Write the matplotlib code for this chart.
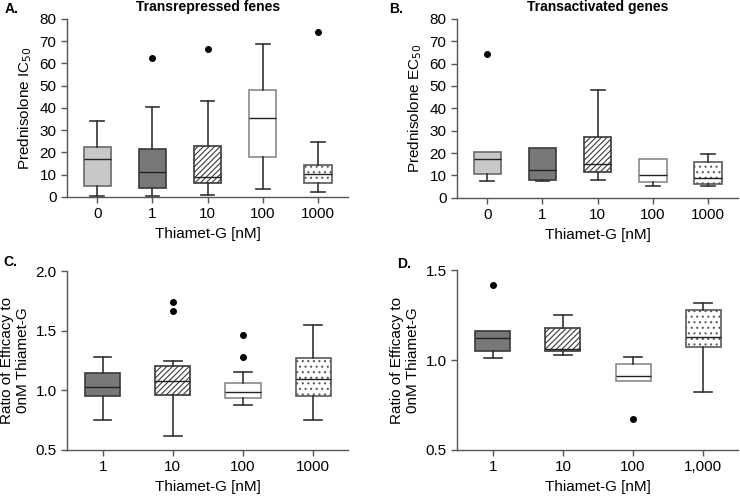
import matplotlib
matplotlib.use("Agg")
import matplotlib.pyplot as plt

plt.rcParams['font.family'] = ['Liberation Sans', 'DejaVu Sans']
plt.rcParams['hatch.linewidth'] = 0.8

# --- data ---
# A: transrepressed genes, IC50
a_labels = ['0', '1', '10', '100', '1000']
a_low = [0.3, 0.2, 1.0, 3.7, 2.0]
a_q1 = [5.0, 4.0, 6.0, 17.8, 6.3]
a_med = [17.0, 11.0, 9.0, 35.4, 10.3]
a_q3 = [22.5, 21.7, 23.0, 48.0, 14.4]
a_high = [34.3, 40.4, 43.0, 68.5, 24.6]
a_out = [[], [62.4], [66.6], [], [74.0]]

# B: transactivated genes, EC50
b_labels = ['0', '1', '10', '100', '1000']
b_low = [7.5, 7.5, 7.8, 5.2, 5.3]
b_q1 = [10.5, 8.0, 11.5, 7.1, 6.2]
b_med = [17.3, 12.4, 15.2, 10.2, 8.8]
b_q3 = [20.3, 22.4, 27.2, 17.4, 15.9]
b_high = [20.3, 22.4, 48.3, 17.4, 19.5]
b_out = [[64.3], [], [], [], []]

# C: ratio of efficacy (transrepressed)
c_labels = ['1', '10', '100', '1000']
c_low = [0.748, 0.614, 0.874, 0.748]
c_q1 = [0.952, 0.963, 0.938, 0.952]
c_med = [1.032, 1.08, 0.99, 1.094]
c_q3 = [1.144, 1.208, 1.063, 1.272]
c_high = [1.28, 1.242, 1.155, 1.548]
c_out = [[], [1.665, 1.743], [1.278, 1.465], []]

# D: ratio of efficacy (transactivated)
d_labels = ['1', '10', '100', '1,000']
d_low = [1.013, 1.028, 0.881, 0.822]
d_q1 = [1.05, 1.05, 0.881, 1.07]
d_med = [1.12, 1.06, 0.909, 1.126]
d_q3 = [1.159, 1.18, 0.976, 1.276]
d_high = [1.159, 1.248, 1.017, 1.319]
d_out = [[1.415], [], [0.67], []]

# box styles per group (0, 1, 10, 100, 1000)
styles = {
    '0': dict(fc='#c8c8c8', ec='#6a6a6a', hatch=None),
    '1': dict(fc='#787878', ec='#3a3a3a', hatch=None),
    '10': dict(fc='white', ec='#3a3a3a', hatch='//////'),
    '100': dict(fc='white', ec='#8a8a8a', hatch=None),
    '1000': dict(fc='white', ec='#5a5a5a', hatch='...'),
}
styles['1,000'] = styles['1000']


def draw(ax, labels, low, q1, med, q3, high, out):
    stats = []
    for i in range(len(labels)):
        stats.append(dict(whislo=low[i], q1=q1[i], med=med[i], q3=q3[i],
                          whishi=high[i], fliers=out[i]))
    pos = list(range(1, len(labels) + 1))
    bp = ax.bxp(stats, positions=pos, widths=0.5, patch_artist=True,
                capwidths=0.25,
                medianprops=dict(color='#222222', lw=1.0),
                flierprops=dict(marker='o', markerfacecolor='black',
                                markeredgecolor='black', markersize=4),
                whiskerprops=dict(lw=1.2, color='#333333'),
                capprops=dict(lw=1.2, color='#333333'))
    for i, lab in enumerate(labels):
        s = styles[lab]
        box = bp['boxes'][i]
        box.set_facecolor(s['fc'])
        box.set_edgecolor(s['ec'])
        box.set_linewidth(1.2)
        if s['hatch']:
            box.set_hatch(s['hatch'])
        # no cap where the whisker ends on the box
        if low[i] == q1[i]:
            bp['caps'][2 * i].set_visible(False)
        if high[i] == q3[i]:
            bp['caps'][2 * i + 1].set_visible(False)
    ax.set_xticks(pos)
    ax.set_xticklabels(labels)
    ax.set_xlim(0.45, len(labels) + 0.55)
    for sp in ['top', 'right']:
        ax.spines[sp].set_visible(False)
    for sp in ['left', 'bottom']:
        ax.spines[sp].set_color('#555555')
        ax.spines[sp].set_linewidth(1.0)
    ax.tick_params(colors='#555555', labelcolor='black', labelsize=11,
                   length=4, width=1.0)
    ax.set_xlabel('Thiamet-G [nM]', fontsize=11)


fig = plt.figure(figsize=(7.4, 4.97), dpi=100)

axA = fig.add_axes([0.0905, 0.604, 0.380, 0.358])
draw(axA, a_labels, a_low, a_q1, a_med, a_q3, a_high, a_out)
axA.set_ylim(0, 80)
axA.set_yticks(range(0, 81, 10))
axA.set_ylabel('Prednisolone IC$_{50}$', fontsize=11)
axA.set_title('Transrepressed fenes', fontsize=10, fontweight='bold', pad=6)

axB = fig.add_axes([0.6176, 0.602, 0.380, 0.360])
draw(axB, b_labels, b_low, b_q1, b_med, b_q3, b_high, b_out)
axB.set_ylim(0, 80)
axB.set_yticks(range(0, 81, 10))
axB.set_ylabel('Prednisolone EC$_{50}$', fontsize=11)
axB.set_title('Transactivated genes', fontsize=10, fontweight='bold', pad=6)

axC = fig.add_axes([0.0905, 0.0946, 0.380, 0.360])
draw(axC, c_labels, c_low, c_q1, c_med, c_q3, c_high, c_out)
axC.set_xlim(0.49, 4.5)
axC.set_ylim(0.5, 2.0)
axC.set_yticks([0.5, 1.0, 1.5, 2.0])
axC.set_ylabel('Ratio of Efficacy to\n0nM Thiamet-G', fontsize=11)

axD = fig.add_axes([0.6176, 0.0946, 0.380, 0.362])
draw(axD, d_labels, d_low, d_q1, d_med, d_q3, d_high, d_out)
axD.set_xlim(0.49, 4.5)
axD.set_ylim(0.5, 1.5)
axD.set_yticks([0.5, 1.0, 1.5])
axD.set_ylabel('Ratio of Efficacy to\n0nM Thiamet-G', fontsize=11)

for txt, x, y in [('A.', 0.006, 0.982), ('B.', 0.526, 0.982),
                  ('C.', 0.004, 0.473), ('D.', 0.536, 0.468)]:
    fig.text(x, y, txt, fontsize=10, fontweight='bold', va='center')

fig.savefig('out.png', dpi=100)
